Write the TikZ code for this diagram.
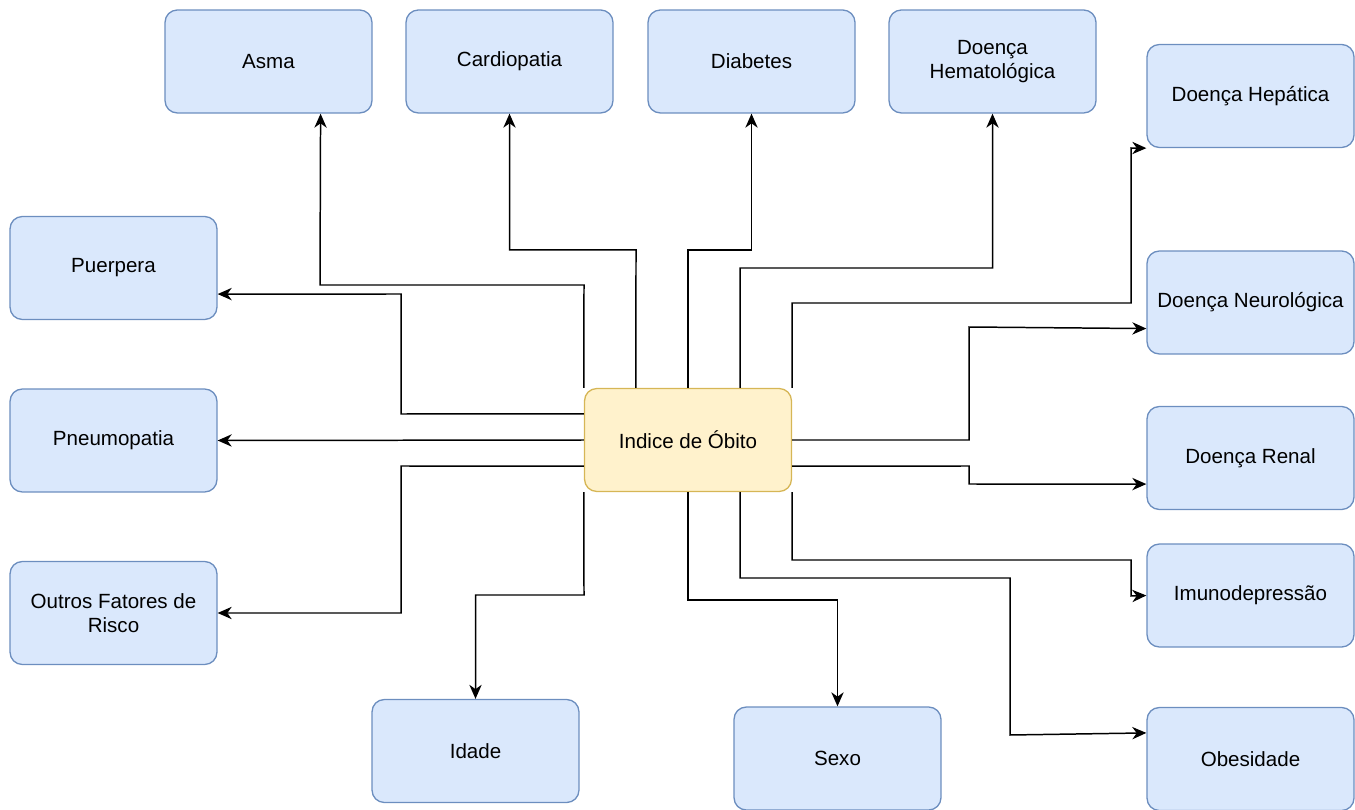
\documentclass[tikz,border=0pt]{standalone}
\usepackage{fontspec}
\setmainfont{Liberation Sans}
\usetikzlibrary{arrows.meta,calc,positioning}
\definecolor{boxfill}{HTML}{DAE8FC}
\definecolor{boxline}{HTML}{6C8EBF}
\definecolor{midfill}{HTML}{FFF2CC}
\definecolor{midline}{HTML}{D6B656}

\begin{document}
\begin{tikzpicture}[x=0.02cm, y=-0.02cm]
	\tikzstyle{every node} = [rectangle, rounded corners=7pt, draw = boxline, fill = boxfill, line width=0.75pt, minimum width=4.14cm, minimum height=2.06cm, align=center, font=\fontsize{11.7}{13.5}\selectfont]
	\tikzstyle{link} = [draw = black, line width=0.85pt, -{Stealth[length=8pt, width=7pt, inset=2.5pt]}]
\useasboundingbox (0,0) rectangle (1355,810);
\node (asma) at (268.5, 61.5) {Asma};
\node (cardio) at (509.5, 61.5) {Cardiopatia};
\node (diab) at (751.5, 61.5) {Diabetes};
\node (hemato) at (992.5, 61.5) {Doença\\Hematológica};
\node (hepat) at (1250.5, 96) {Doença Hepática};
\node (puerp) at (113.5, 268) {Puerpera};
\node (pneumo) at (113.5, 440.5) {Pneumopatia};
\node (outros) at (113.5, 613) {Outros Fatores de\\Risco};
\node (idade) at (475.5, 751) {Idade};
\node (sexo) at (837.5, 758.5) {Sexo};
\node (neuro) at (1250.5, 302.5) {Doença Neurológica};
\node (renal) at (1250.5, 458) {Doença Renal};
\node (imuno) at (1250.5, 595.5) {Imunodepressão};
\node (obes) at (1250.5, 759) {Obesidade};
\node[fill = midfill, draw = midline] (obito) at (688, 440) {Indice de Óbito};

	% para cima
	\path[link] (obito.north west) -- (584,285) -- (320,285) -- ($(asma.south west)!0.75!(asma.south east)$);
	\path[link] ($(obito.north west)!0.25!(obito.north east)$) -- (636,250) -- (509.5,250) -- (cardio.south);
	\path[link] (obito.north) -- (688,250) -- (751.5,250) -- (diab.south);
	\path[link] ($(obito.north west)!0.75!(obito.north east)$) -- (740,268) -- (992.5,268) -- (hemato.south);
	\path[link] (obito.north east) -- (792,303) -- (1131,303) -- (1131,148) -- (hepat.south west);
	% esquerda
	\path[link] ($(obito.north west)!0.25!(obito.south west)$) -- (401,414) -- (401,294) -- ($(puerp.north east)!0.75!(puerp.south east)$);
	\path[link] (obito.west) -- (pneumo.east);
	\path[link] ($(obito.north west)!0.75!(obito.south west)$) -- (401,466) -- (401,613) -- (outros.east);
	% direita
	\path[link] (obito.east) -- (969,440) -- (969,327) -- ($(neuro.north west)!0.75!(neuro.south west)$);
	\path[link] ($(obito.north east)!0.75!(obito.south east)$) -- (969,466) -- (969,484) -- ($(renal.north west)!0.75!(renal.south west)$);
	% para baixo
	\path[link] (obito.south west) -- (584,595) -- (475.5,595) -- (idade.north);
	\path[link] (obito.south) -- (688,600) -- (837.5,600) -- (sexo.north);
	\path[link] ($(obito.south west)!0.75!(obito.south east)$) -- (740,578) -- (1010,578) -- (1010,735) -- ($(obes.north west)!0.25!(obes.south west)$);
	\path[link] (obito.south east) -- (792,560) -- (1131,560) -- (1131,596) -- (imuno.west);
\end{tikzpicture}
\end{document}
